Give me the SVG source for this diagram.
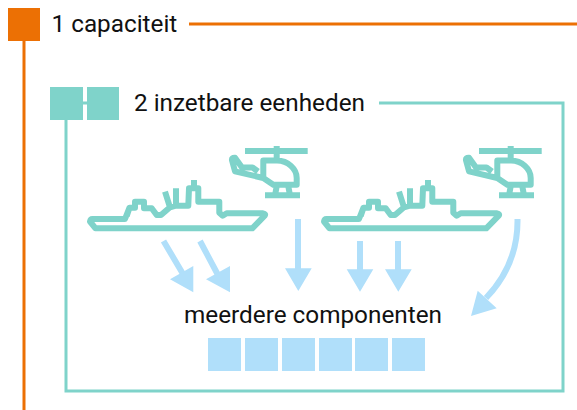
<svg xmlns="http://www.w3.org/2000/svg" width="577" height="410" viewBox="0 0 577 410">
<style>
.t{font-family:Roboto,"Liberation Sans",sans-serif;font-size:24.3px;fill:#111}
.o{fill:none;stroke:#ec7004;stroke-width:3}
.g{fill:none;stroke:#7fd3ca;stroke-width:3}
.i{fill:none;stroke:#7fd3ca;stroke-width:6;stroke-linejoin:round;stroke-linecap:butt}
.b{fill:#b0dffa}
.s{fill:none;stroke:#b0dffa;stroke-width:6}
</style>
<defs>
<g id="ship">
<path class="i" d="M46.700 76L49.500 67.700H55V61.700H64V68.300H71.700L76.700 75H81L90 67.300L85 51.700M90 67.300L96 65.700V48.300M96.700 65.700H108.300L109 48.300H118.300V61.700H139.300V72.700L142.700 75.700L146.700 73.300H183Q186 74 184.700 75.700L172.300 88.300H15.500L10 81.500Q10.500 79 12.300 79H45L49.500 67.700M114 48.300V40"/>
</g>
<g id="heli">
<path class="i" d="M165 11H227.700M196.700 6V19.300M183.300 38V20.500H197C208 20.500 216.700 29 216.700 38V44.700H193.300L183.300 38L155 31.300L152 20.300Q151.500 17.500 155 17.700L162 27.500H172.500L178 31.500M185 55.300H220M197 44.700L195 55.300M208 44.700L210 55.300"/>
</g>
</defs>
<g id="connectors">
<path class="o" d="M24 40V410M189 24H577"/>
<path class="g" d="M66 120V391H563V103H379M83 103H87"/>
<g id="arrows">
<path class="s" d="M163.500 241L183 274M200 241L218 275M298 219V270M360 241V271M398 241V271M517.500 219C518 250 508 275 486 298"/>
<path class="b" d="M193.300 266L170 279.300L193.300 292.300ZM230 266L206 279.300L230 292.300ZM285 268.300H311.700L298.300 291ZM346.700 269.300H373.300L360 291.700ZM385 269.300H411.700L398.300 291.700ZM477.700 290.700L496.700 308.300L471 316Z"/>
</g>
</g>
<g id="node-capaciteit">
<rect x="8" y="8" width="32" height="33" fill="#ec7004"/>
<text class="t" x="51.500" y="32">1 capaciteit</text>
</g>
<g id="node-eenheden">
<rect x="50" y="87" width="33" height="33" fill="#7fd3ca"/>
<rect x="87" y="87" width="32" height="33" fill="#7fd3ca"/>
<text class="t" x="134" y="111">2 inzetbare eenheden</text>
</g>
<g id="node-ship1"><use href="#ship" x="80" y="140"/></g>
<g id="node-heli1"><use href="#heli" x="80" y="140"/></g>
<g id="node-ship2"><use href="#ship" x="314" y="140"/></g>
<g id="node-heli2"><use href="#heli" x="314" y="140"/></g>
<g id="node-componenten">
<text class="t" x="184" y="323">meerdere componenten</text>
<rect class="b" x="208" y="338" width="33" height="33"/>
<rect class="b" x="245" y="338" width="33" height="33"/>
<rect class="b" x="282" y="338" width="33" height="33"/>
<rect class="b" x="319" y="338" width="33" height="33"/>
<rect class="b" x="355" y="338" width="33" height="33"/>
<rect class="b" x="392" y="338" width="33" height="33"/>
</g>
</svg>
